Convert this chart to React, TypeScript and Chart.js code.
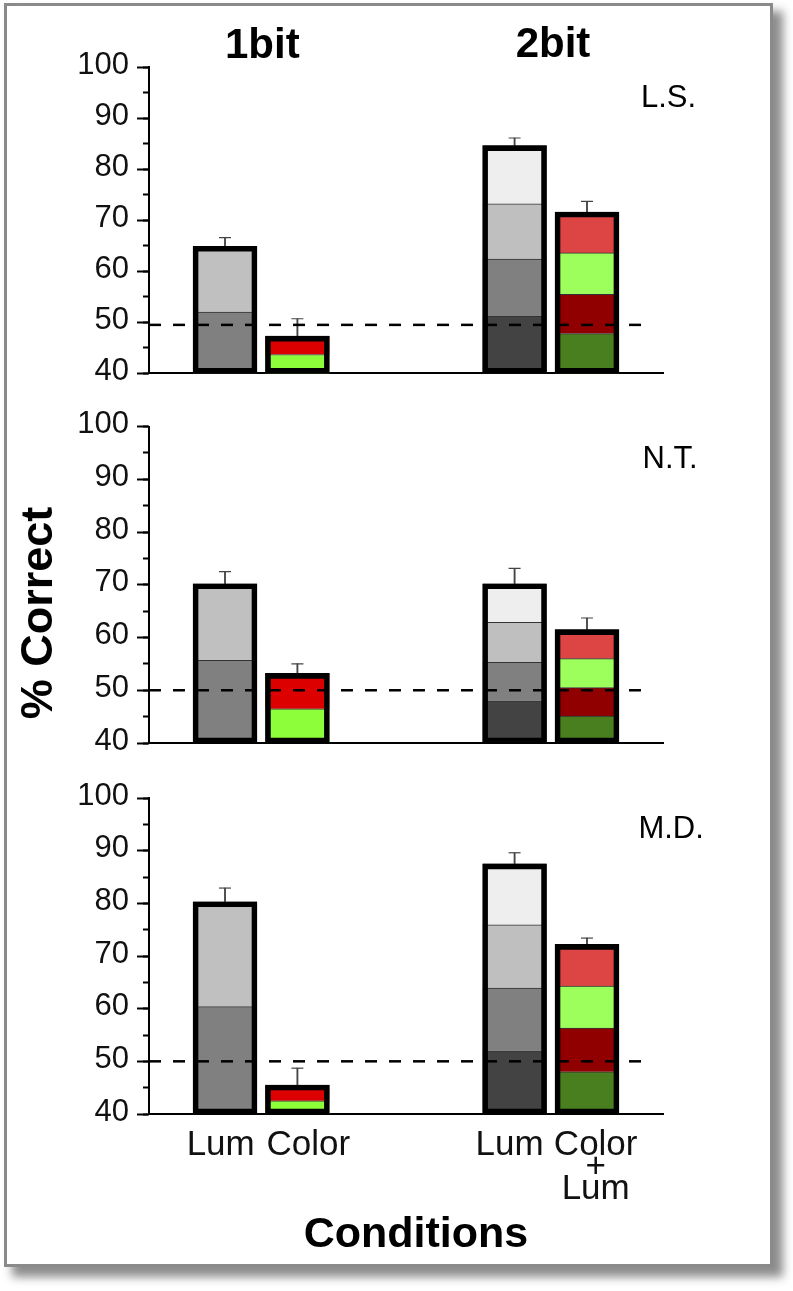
import React, { useEffect, useRef } from 'react';
import { Chart, registerables } from 'chart.js';

Chart.register(...registerables);

const FONT = "'Liberation Sans', Arial, Helvetica, sans-serif";

// ---------- data ----------
const groupTitles = ['1bit', '2bit'];
const subjects = ['L.S.', 'N.T.', 'M.D.'];
const conditionLabels: (string | string[])[] = ['Lum', 'Color', 'Lum', ['Color', '+', 'Lum']];
const conditionSlots = [1, 2, 5, 6]; // index-axis slot of each bar
const yMin = 40;
const yMax = 100;
const yMajorStep = 10;
const yMinorStep = 5;

// cumulative tops of the stacked segments (% correct), bottom to top, per bar
const lsTops = [[52.0, 64.9], [43.7, 47.3], [51.2, 62.4, 73.2, 84.6], [47.8, 55.5, 63.6, 71.6]];
const lsErrTop = [66.6, 50.7, 86.1, 73.7];
const ntTops = [[55.7, 70.2], [46.5, 53.2], [48.0, 55.3, 62.9, 70.2], [45.1, 50.5, 56.0, 61.5]];
const ntErrTop = [72.5, 55.0, 73.1, 63.7];
const mdTops = [[60.4, 80.3], [42.5, 45.5], [52.0, 63.9, 75.9, 87.5], [48.0, 56.3, 64.3, 72.2]];
const mdErrTop = [82.9, 48.7, 89.6, 73.4];
const chanceLevels = [49.5, 50, 50];
const chanceXStart = -0.05;
const chanceXEnd = 6.85;
const xMin = -0.05;
const xMax = 7.05;

// ---------- styles ----------
const segmentColors = [
  ['#808080', '#c0c0c0'],
  ['#8dff3a', '#dd0000'],
  ['#434343', '#808080', '#bfbfbf', '#eeeeee'],
  ['#4a7f1f', '#900000', '#9cff5c', '#dd4545'],
];
// small horizontal nudges of the condition labels relative to their bars (axis units)
const labelNudge = [-0.06, 0.15, -0.07, 0.12];

const panelLayouts = [
  { top: 0, height: 400, padTop: 67, padBottom: 22, xAxisHeight: 0, showX: false },
  { top: 400, height: 380, padTop: 25, padBottom: 37, xAxisHeight: 0, showX: false },
  { top: 770, height: 480, padTop: 28, padBottom: 0, xAxisHeight: 136, showX: true },
];

const CANVAS_W = 793;
const Y_AXIS_W = 149;
const PAD_RIGHT = 130;

function buildConfig(tops: number[][], errTop: number[], chance: number, layout: any) {
  const datasets: any[] = [];
  // chance level dashed line
  datasets.push({
    type: 'line',
    data: [{ x: chanceXStart, y: chance }, { x: chanceXEnd, y: chance }],
    borderColor: '#000',
    borderWidth: 2.5,
    borderDash: [12, 12],
    pointRadius: 0,
    fill: false,
    order: 0,
  });
  // error bar caps
  datasets.push({
    type: 'line',
    data: conditionSlots.map((x, i) => ({ x, y: errTop[i] })),
    showLine: false,
    pointStyle: 'line',
    pointRadius: 6,
    pointBorderWidth: 1.2,
    pointBorderColor: '#444',
    pointBackgroundColor: '#444',
    order: 1,
  });
  // thick outline of each bar
  datasets.push({
    type: 'bar',
    data: conditionSlots.map((x, i) => ({ x, y: [yMin, tops[i][tops[i].length - 1]] })),
    backgroundColor: 'rgba(0,0,0,0)',
    borderColor: '#000',
    borderWidth: 5,
    borderSkipped: false,
    barThickness: 64,
    grouped: false,
    order: 2,
  });
  // error bar stems
  datasets.push({
    type: 'bar',
    data: conditionSlots.map((x, i) => ({ x, y: [tops[i][tops[i].length - 1], errTop[i]] })),
    backgroundColor: '#444',
    borderWidth: 0,
    barThickness: 1.2,
    grouped: false,
    order: 3,
  });
  // stacked segments
  const maxSeg = Math.max(...tops.map((t) => t.length));
  for (let k = 0; k < maxSeg; k++) {
    const idx = tops.map((t, i) => (t.length > k ? i : -1)).filter((i) => i >= 0);
    datasets.push({
      type: 'bar',
      data: idx.map((i) => ({ x: conditionSlots[i], y: [k === 0 ? yMin : tops[i][k - 1], tops[i][k]] })),
      backgroundColor: idx.map((i) => segmentColors[i][k]),
      borderColor: '#333',
      borderWidth: { top: 1, right: 0, bottom: 0, left: 0 },
      barThickness: 64,
      grouped: false,
      order: 4 + k,
    });
  }

  return {
    type: 'bar',
    data: { datasets },
    options: {
      animation: false,
      responsive: false,
      devicePixelRatio: 1,
      events: [],
      layout: { padding: { left: 0, right: PAD_RIGHT, top: layout.padTop, bottom: layout.padBottom } },
      plugins: { legend: { display: false }, tooltip: { enabled: false }, title: { display: false } },
      scales: {
        x: {
          type: 'linear',
          min: xMin,
          max: xMax,
          offset: false,
          position: 'bottom',
          grid: { display: false, drawTicks: false, tickLength: 0, offset: false },
          border: { display: true, color: '#000', width: 2 },
          afterBuildTicks: (scale: any) => {
            scale.ticks = conditionSlots.map((v, i) => ({ value: v + labelNudge[i] }));
          },
          afterFit: (scale: any) => {
            scale.height = layout.xAxisHeight;
          },
          ticks: {
            display: layout.showX,
            autoSkip: false,
            maxRotation: 0,
            minRotation: 0,
            padding: 20,
            color: '#111',
            font: { family: FONT, size: 35, lineHeight: 0.634 },
            callback: (_v: any, i: number) => conditionLabels[i],
          },
        },
        y: {
          type: 'linear',
          position: 'left',
          min: yMin,
          max: yMax,
          afterFit: (scale: any) => {
            scale.width = Y_AXIS_W;
          },
          ticks: {
            stepSize: yMajorStep,
            padding: 8,
            labelOffset: -2,
            color: '#111',
            font: { family: FONT, size: 31 },
          },
          grid: { drawOnChartArea: false, drawTicks: true, tickLength: 12, tickWidth: 2, tickColor: '#000' },
          border: { display: true, color: '#000', width: 2 },
        },
        yMinor: {
          type: 'linear',
          axis: 'y',
          position: { x: xMin },
          min: yMin,
          max: yMax,
          ticks: { stepSize: yMinorStep, display: false },
          grid: { drawOnChartArea: false, drawTicks: true, tickLength: 6, tickWidth: 2, tickColor: '#000' },
          border: { display: false },
        },
      },
    },
  };
}

const panelTops = [lsTops, ntTops, mdTops];
const panelErrs = [lsErrTop, ntErrTop, mdErrTop];

const subjectPositions = [
  { left: 641, top: 81 },
  { left: 642.6, top: 442 },
  { left: 638.4, top: 812 },
];

export default function App() {
  const refs = [useRef<HTMLCanvasElement>(null), useRef<HTMLCanvasElement>(null), useRef<HTMLCanvasElement>(null)];

  useEffect(() => {
    const charts: Chart[] = [];
    refs.forEach((r, p) => {
      if (!r.current) return;
      const cfg: any = buildConfig(panelTops[p], panelErrs[p], chanceLevels[p], panelLayouts[p]);
      charts.push(new Chart(r.current, cfg));
    });
    return () => charts.forEach((c) => c.destroy());
  }, []);

  const textBase: React.CSSProperties = {
    position: 'absolute',
    fontFamily: FONT,
    color: '#000',
    whiteSpace: 'nowrap',
  };

  return (
    <div style={{ position: 'absolute', left: 0, top: 0, width: 793, height: 1291, background: '#fff', overflow: 'hidden' }}>
      <div
        style={{
          position: 'absolute',
          left: 4,
          top: 3,
          width: 769,
          height: 1264,
          boxSizing: 'border-box',
          border: '3px solid #8a8a8a',
          boxShadow: '9px 9px 9px 1px rgba(0,0,0,0.45)',
          background: '#fff',
        }}
      />
      {panelLayouts.map((l, p) => (
        <canvas
          key={p}
          ref={refs[p]}
          width={CANVAS_W}
          height={l.height}
          style={{ position: 'absolute', left: 0, top: l.top, width: CANVAS_W, height: l.height }}
        />
      ))}
      <div style={{ ...textBase, left: 162.3, top: 23.4, width: 200, textAlign: 'center', fontSize: 42, lineHeight: '42px', fontWeight: 'bold' }}>
        {groupTitles[0]}
      </div>
      <div style={{ ...textBase, left: 453, top: 21.9, width: 200, textAlign: 'center', fontSize: 42, lineHeight: '42px', fontWeight: 'bold' }}>
        {groupTitles[1]}
      </div>
      {subjects.map((s, i) => (
        <div key={s} style={{ ...textBase, left: subjectPositions[i].left, top: subjectPositions[i].top, fontSize: 31, lineHeight: '31px' }}>
          {s}
        </div>
      ))}
      <div
        style={{
          ...textBase,
          left: 37 - 150,
          top: 613 - 25,
          width: 300,
          height: 50,
          textAlign: 'center',
          fontSize: 45,
          lineHeight: '50px',
          fontWeight: 'bold',
          transform: 'rotate(-90deg)',
          transformOrigin: '50% 50%',
        }}
      >
        % Correct
      </div>
      <div style={{ ...textBase, left: 416 - 150, top: 1210.9, width: 300, textAlign: 'center', fontSize: 43, lineHeight: '43px', fontWeight: 'bold' }}>
        Conditions
      </div>
    </div>
  );
}
